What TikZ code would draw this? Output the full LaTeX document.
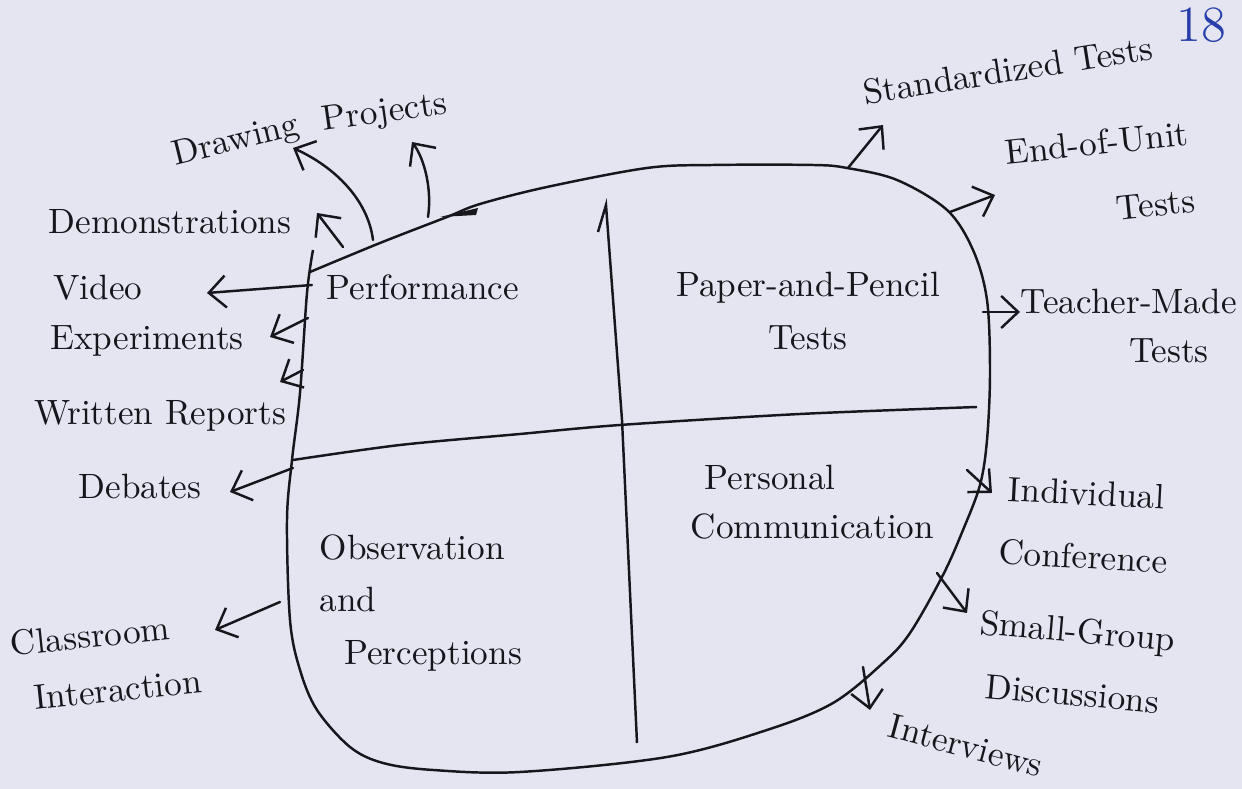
\documentclass[tikz,border=0pt]{standalone}
\usepackage{tikz}
\usetikzlibrary{arrows.meta}

\definecolor{paper}{RGB}{228,229,240}
\definecolor{ink}{RGB}{22,22,28}
\definecolor{bluepen}{RGB}{40,62,170}

\begin{document}
\begin{tikzpicture}[x=0.01cm, y=-0.01cm, line width=0.7pt, color=ink,
	>={Straight Barb[length=1.7mm,width=3.2mm]},
	lab/.style={text=ink, inner sep=1pt},
	pen/.style={->, line cap=round}]

	% Paper
	\useasboundingbox (0,0) rectangle (1242,789);
	\fill[paper] (0,0) rectangle (1242,789);

	% Outline of the box
	\draw[line join=round] plot[smooth, tension=0.55] coordinates {(310,272) (380,243) (447,217) (480,204) (547,187) (647,168) (713,165) (813,165) (847,168) (897,180) (947,210) (973,250) (987,300) (990,373) (987,440) (980,485) (963,530) (943,575) (910,633) (883,663) (833,703) (767,730) (667,757) (520,772) (433,770) (383,763) (350,747) (317,710) (300,670) (290,620) (287,520) (292,460) (300,393) (307,293) (313,250)};
	%thick stroke on the top edge
	\fill (440,217) -- (478,208) -- (476,215) -- cycle;

	% Dividers
	%vertical
	\draw (598,232) -- (606,205) -- (622,420) -- (637,743);
	%horizontal
	\draw plot[smooth] coordinates {(293,460) (400,445) (520,434) (620,425) (800,414) (977,407)};

	% Quadrant labels
	\node[lab, anchor=base] (perf) at (423,300) {Performance};
	\node[lab, align=center] (pencil) at (808,311) {Paper-and-Pencil\\[3pt]Tests};
	\node[lab, align=left, anchor=west] (observ) at (315,603) {Observation\\[3pt]and\\[3pt]\hspace*{7pt}Perceptions};
	\node[lab, align=left, anchor=west] (personal) at (686,502) {\hspace*{4pt}Personal\\[2pt]Communication};

	% Performance methods
	\node[lab, anchor=base, rotate=14] (drawing) at (238,150) {Drawing};
	\node[lab, anchor=base, rotate=8] (projects) at (386,122) {Projects};
	\node[lab, anchor=base] (demo) at (170,234) {Demonstrations};
	\node[lab, anchor=base] (video) at (98,300) {Video};
	\node[lab, anchor=base] (expt) at (147,350) {Experiments};
	\node[lab, anchor=base] (written) at (160,425) {Written Reports};
	\node[lab, anchor=base] (debates) at (140,499) {Debates};

	% Observation methods
	\node[lab, align=left, rotate=6] (classroom) at (106,662) {Classroom\\[4pt]\hspace*{5pt}Interaction};

	% Paper-and-pencil methods
	\node[lab, anchor=base, rotate=9] (std) at (1010,82) {Standardized Tests};
	\node[lab, align=right, rotate=6] (endunit) at (1100,176) {End-of-Unit\\[7pt]Tests};
	\node[lab, align=right, anchor=west] (teacher) at (1016,326) {Teacher-Made\\[2pt]Tests\hspace*{8pt}};

	% Personal communication methods
	\node[lab, align=center, rotate=-3] (indiv) at (1085,525) {Individual\\[6pt]Conference};
	\node[lab, align=center, rotate=-5] (small) at (1075,662) {Small-Group\\[6pt]Discussions};
	\node[lab, anchor=base, rotate=-15] (interv) at (963,757) {Interviews};

	% Page number
	\node[anchor=base, text=bluepen, font=\Large] (page) at (1201,42) {18};

	% Arrow ends
	\coordinate (dr1) at (373,240);  \coordinate (dr2) at (293,148);
	\coordinate (pr1) at (428,217);  \coordinate (pr2) at (412,142);
	\coordinate (de1) at (343,247);  \coordinate (de2) at (317,213);
	\coordinate (vi1) at (312,285);  \coordinate (vi2) at (207,293);
	\coordinate (ex1) at (308,318);  \coordinate (ex2) at (270,337);
	\coordinate (wr1) at (303,370);  \coordinate (wr2) at (280,382);
	\coordinate (db1) at (293,468);  \coordinate (db2) at (230,492);
	\coordinate (cl1) at (280,602);  \coordinate (cl2) at (215,630);
	\coordinate (st1) at (848,168);  \coordinate (st2) at (883,125);
	\coordinate (eu1) at (950,212);  \coordinate (eu2) at (995,195);
	\coordinate (tm1) at (983,312);  \coordinate (tm2) at (1020,312);
	\coordinate (in1) at (967,470);  \coordinate (in2) at (992,493);
	\coordinate (sg1) at (937,573);  \coordinate (sg2) at (967,613);
	\coordinate (iv1) at (863,667);  \coordinate (iv2) at (870,710);

	% Arrows
	\draw[pen] (dr1) .. controls (368,200) and (335,167) .. (dr2);
	\draw[pen] (pr1) .. controls (432,190) and (425,160) .. (pr2);
	\draw[pen] (de1) -- (de2);
	\draw[pen] (vi1) -- (vi2);
	\draw[pen] (ex1) -- (ex2);
	\draw[pen] (wr1) -- (wr2);
	\draw[pen] (db1) -- (db2);
	\draw[pen] (cl1) -- (cl2);
	\draw[pen] (st1) -- (st2);
	\draw[pen] (eu1) -- (eu2);
	\draw[pen] (tm1) -- (tm2);
	\draw[pen] (in1) -- (in2);
	\draw[pen] (sg1) -- (sg2);
	\draw[pen] (iv1) -- (iv2);

\end{tikzpicture}
\end{document}
